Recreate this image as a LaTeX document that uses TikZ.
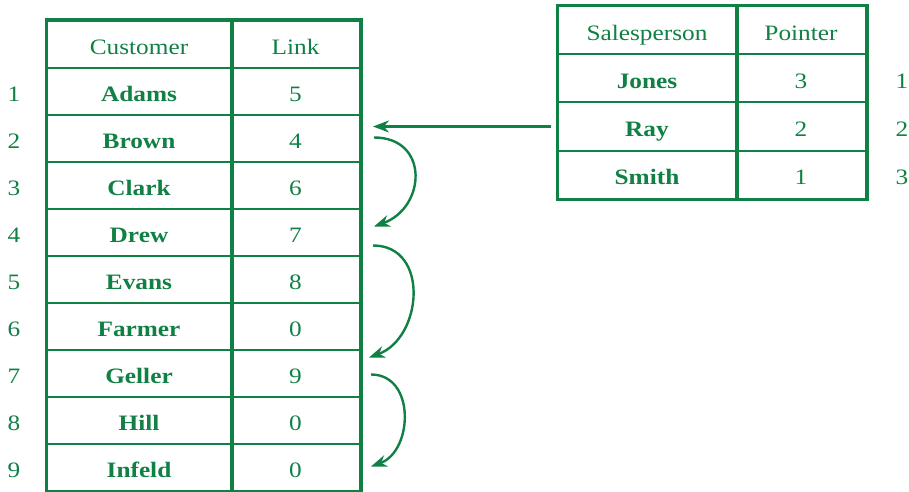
\documentclass[tikz,border=0pt]{standalone}
\usepackage{fontspec}
\setmainfont{Liberation Serif}[FakeStretch=1.15]
\usetikzlibrary{positioning,arrows.meta}
\definecolor{tabgreen}{RGB}{16,128,68}
\newcommand{\tabfont}{\fontsize{22}{26}\selectfont}
\tikzstyle{namecell} = [rectangle, minimum width=184pt, minimum height=47pt, text height=20pt, text depth=0pt, draw=tabgreen, line width=2pt, text=tabgreen, font=\tabfont\bfseries]
\tikzstyle{headcell} = [namecell, font=\tabfont]
\tikzstyle{linkcell} = [namecell, minimum width=129pt, font=\tabfont]
\tikzstyle{spcell} = [namecell, minimum width=178pt, minimum height=48pt]
\tikzstyle{sphead} = [spcell, font=\tabfont]
\tikzstyle{ptrcell} = [namecell, minimum width=130pt, minimum height=48pt, font=\tabfont]
\tikzstyle{rownum} = [text=tabgreen, text height=20pt, text depth=0pt, font=\tabfont]
\tikzstyle{border} = [draw=tabgreen, line width=3pt]
\tikzstyle{ptrarrow} = [draw=tabgreen, line width=2.4pt, ->, >={Stealth[length=16pt,width=12pt]}]

\begin{document}
\begin{tikzpicture}[x=1pt, y=1pt, node distance=47pt]
\useasboundingbox (0,0) rectangle (909,491);

	% customer table
	\node (customer)[headcell] at (139,446.5) {Customer};
	\node (link)[linkcell, right of=customer, node distance=156.5pt] {Link};

	\node (adams)[namecell, below of=customer] {Adams};
	\node (brown)[namecell, below of=adams] {Brown};
	\node (clark)[namecell, below of=brown] {Clark};
	\node (drew)[namecell, below of=clark] {Drew};
	\node (evans)[namecell, below of=drew] {Evans};
	\node (farmer)[namecell, below of=evans] {Farmer};
	\node (geller)[namecell, below of=farmer] {Geller};
	\node (hill)[namecell, below of=geller] {Hill};
	\node (infeld)[namecell, below of=hill] {Infeld};

	\node (l1)[linkcell, below of=link] {5};
	\node (l2)[linkcell, below of=l1] {4};
	\node (l3)[linkcell, below of=l2] {6};
	\node (l4)[linkcell, below of=l3] {7};
	\node (l5)[linkcell, below of=l4] {8};
	\node (l6)[linkcell, below of=l5] {0};
	\node (l7)[linkcell, below of=l6] {9};
	\node (l8)[linkcell, below of=l7] {0};
	\node (l9)[linkcell, below of=l8] {0};

	\node (n1)[rownum, left of=adams, node distance=125pt] {1};
	\node (n2)[rownum, left of=brown, node distance=125pt] {2};
	\node (n3)[rownum, left of=clark, node distance=125pt] {3};
	\node (n4)[rownum, left of=drew, node distance=125pt] {4};
	\node (n5)[rownum, left of=evans, node distance=125pt] {5};
	\node (n6)[rownum, left of=farmer, node distance=125pt] {6};
	\node (n7)[rownum, left of=geller, node distance=125pt] {7};
	\node (n8)[rownum, left of=hill, node distance=125pt] {8};
	\node (n9)[rownum, left of=infeld, node distance=125pt] {9};

	\draw [border] (customer.north west) rectangle (l9.south east);
	\draw [border] (customer.north east) -- (infeld.south east);

	% salesperson table
	\begin{scope}[node distance=48pt]
	\node (salesperson)[sphead] at (647,460.5) {Salesperson};
	\node (pointer)[ptrcell, right of=salesperson, node distance=154pt] {Pointer};

	\node (jones)[spcell, below of=salesperson] {Jones};
	\node (ray)[spcell, below of=jones] {Ray};
	\node (smith)[spcell, below of=ray] {Smith};

	\node (p1)[ptrcell, below of=pointer] {3};
	\node (p2)[ptrcell, below of=p1] {2};
	\node (p3)[ptrcell, below of=p2] {1};

	\node (r1)[rownum, right of=p1, node distance=101pt] {1};
	\node (r2)[rownum, right of=p2, node distance=101pt] {2};
	\node (r3)[rownum, right of=p3, node distance=101pt] {3};
	\end{scope}

	\draw [border] (salesperson.north west) rectangle (p3.south east);
	\draw [border] (salesperson.north east) -- (smith.south east);

	% pointers
	\draw [ptrarrow, shorten <=6pt, shorten >=12pt] (ray.west) -- (ray.west -| l2.east);

	\draw [ptrarrow] ([xshift=13pt,yshift=1pt]l2.east) to[out=0, in=20, looseness=1.6] ([xshift=13pt,yshift=6pt]l4.east);
	\draw [ptrarrow] ([xshift=12pt,yshift=-13pt]l4.east) to[out=0, in=20, looseness=1.3] ([xshift=8pt,yshift=16pt]l7.east);
	\draw [ptrarrow] ([xshift=10pt,yshift=-1pt]l7.east) to[out=0, in=20, looseness=1.25] ([xshift=10pt,yshift=1pt]l9.east);

\end{tikzpicture}
\end{document}
